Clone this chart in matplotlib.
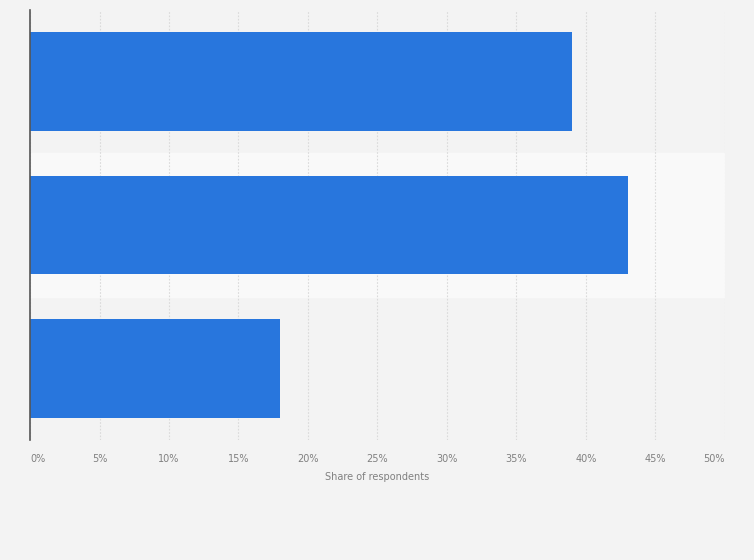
import matplotlib.pyplot as plt
import numpy as np

# Values (share of respondents, %)
categories = ['Category 1', 'Category 2', 'Category 3']
shares = [39, 43, 18]
tick_values = [0, 5, 10, 15, 20, 25, 30, 35, 40, 45, 50]
tick_labels = ['%d%%' % t for t in tick_values]

fig = plt.figure(figsize=(7.54, 5.6), dpi=100)
fig.patch.set_facecolor('#f3f3f3')
ax = fig.add_axes([0.0398, 0.2143, 0.9217, 0.7677])
ax.set_facecolor('#f3f3f3')

y = np.arange(len(categories))

# lighter band behind every other category
for i in y:
    if i % 2 == 1:
        ax.axhspan(i - 0.5, i + 0.5, color='#f9f9f9', zorder=0)

ax.barh(y, shares, height=0.69, color='#2876dd', zorder=3)

ax.set_xlim(0, 50)
ax.set_ylim(len(categories) - 0.5, -0.5)
ax.set_xticks(tick_values)
ax.set_xticklabels(tick_labels, fontsize=7, color='#808080')
# edge labels sit inside the plot, as in the original
xt = ax.get_xticklabels()
xt[0].set_horizontalalignment('left')
xt[-1].set_horizontalalignment('right')
ax.set_yticks(y)
ax.set_yticklabels([])
ax.tick_params(axis='both', length=0, pad=10)
ax.grid(axis='x', color='#dadada', linestyle=(0, (1.5, 1.5)), linewidth=0.8, zorder=1)
ax.set_axisbelow(True)

for side in ['top', 'right', 'bottom']:
    ax.spines[side].set_visible(False)
ax.spines['left'].set_color('#555555')
ax.spines['left'].set_linewidth(1.2)
ax.spines['left'].set_zorder(4)

ax.set_xlabel('Share of respondents', fontsize=7, color='#808080', labelpad=6)

fig.savefig('out.png', dpi=100, facecolor=fig.get_facecolor())
plt.close(fig)
